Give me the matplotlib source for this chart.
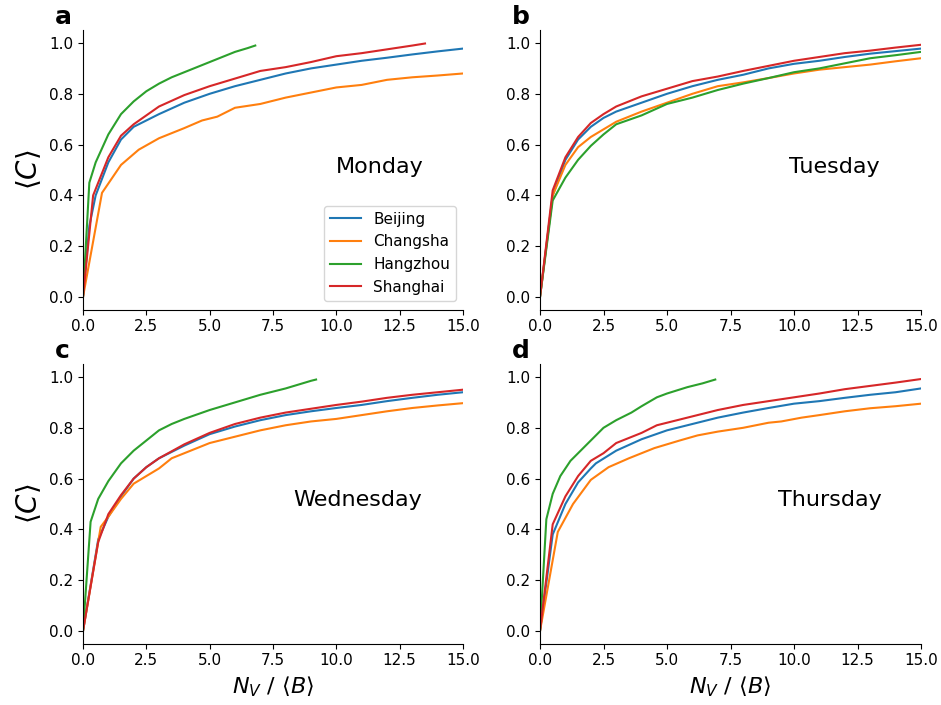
import matplotlib
matplotlib.use("Agg")
import matplotlib.pyplot as plt
import numpy as np

cities = ["Beijing", "Changsha", "Hangzhou", "Shanghai"]
colors = ["#1f77b4", "#ff7f0e", "#2ca02c", "#d62728"]
days = ["Monday", "Tuesday", "Wednesday", "Thursday"]
letters = ["a", "b", "c", "d"]

# Monday
mon_beijing_x = [0, 0.25, 0.5, 1, 1.5, 2, 3, 4, 5, 6, 7, 8, 9, 10, 11, 12, 13, 14, 15]
mon_beijing_y = [0, 0.28, 0.4, 0.53, 0.62, 0.67, 0.72, 0.765, 0.8, 0.83, 0.855, 0.88, 0.9, 0.915, 0.93, 0.942, 0.955, 0.967, 0.978]
mon_changsha_x = [0, 0.75, 1.5, 2.2, 3, 4, 4.7, 5.3, 6, 7, 8, 9, 10, 11, 12, 13, 14, 15]
mon_changsha_y = [0, 0.41, 0.52, 0.58, 0.625, 0.665, 0.695, 0.71, 0.745, 0.76, 0.785, 0.805, 0.825, 0.835, 0.855, 0.865, 0.872, 0.88]
mon_hangzhou_x = [0, 0.25, 0.5, 1, 1.5, 2, 2.5, 3, 3.5, 4, 4.5, 5, 5.5, 6, 6.5, 6.8]
mon_hangzhou_y = [0, 0.45, 0.53, 0.64, 0.72, 0.77, 0.81, 0.84, 0.865, 0.885, 0.905, 0.925, 0.945, 0.965, 0.98, 0.99]
mon_shanghai_x = [0, 0.4, 1, 1.5, 2, 3, 4, 5, 6, 7, 8, 9, 10, 11, 12, 13, 13.5]
mon_shanghai_y = [0, 0.4, 0.55, 0.635, 0.68, 0.75, 0.795, 0.83, 0.86, 0.89, 0.905, 0.925, 0.948, 0.96, 0.975, 0.99, 0.998]

# Tuesday
tue_beijing_x = [0, 0.5, 1, 1.5, 2, 2.5, 3, 4, 5, 6, 7, 8, 9, 10, 11, 12, 13, 14, 15]
tue_beijing_y = [0, 0.4, 0.54, 0.62, 0.67, 0.705, 0.73, 0.765, 0.8, 0.83, 0.855, 0.875, 0.9, 0.918, 0.93, 0.945, 0.958, 0.968, 0.978]
tue_changsha_x = [0, 0.5, 1, 1.5, 2, 3, 4, 5, 6, 7, 8, 9, 10, 11, 12, 13, 14, 15]
tue_changsha_y = [0, 0.4, 0.52, 0.59, 0.63, 0.69, 0.73, 0.765, 0.8, 0.83, 0.845, 0.862, 0.88, 0.895, 0.905, 0.915, 0.928, 0.94]
tue_hangzhou_x = [0, 0.5, 1, 1.5, 2, 2.5, 3, 4, 5, 6, 7, 8, 9, 10, 11, 12, 13, 14, 15]
tue_hangzhou_y = [0, 0.38, 0.47, 0.54, 0.595, 0.64, 0.68, 0.715, 0.76, 0.785, 0.815, 0.84, 0.862, 0.885, 0.9, 0.92, 0.94, 0.952, 0.965]
tue_shanghai_x = [0, 0.5, 1, 1.5, 2, 2.5, 3, 4, 5, 6, 7, 8, 9, 10, 11, 12, 13, 14, 15]
tue_shanghai_y = [0, 0.42, 0.55, 0.63, 0.685, 0.72, 0.75, 0.79, 0.82, 0.85, 0.868, 0.89, 0.91, 0.93, 0.945, 0.96, 0.97, 0.982, 0.993]

# Wednesday
wed_beijing_x = [0, 0.6, 1, 1.5, 2, 2.5, 3, 4, 5, 6, 7, 8, 9, 10, 11, 12, 13, 14, 15]
wed_beijing_y = [0, 0.36, 0.45, 0.53, 0.6, 0.645, 0.68, 0.73, 0.775, 0.805, 0.83, 0.85, 0.865, 0.878, 0.89, 0.905, 0.918, 0.93, 0.94]
wed_changsha_x = [0, 0.7, 1, 1.5, 2, 3, 3.5, 4, 5, 6, 7, 8, 9, 10, 11, 12, 13, 14, 15]
wed_changsha_y = [0, 0.41, 0.45, 0.52, 0.58, 0.64, 0.68, 0.7, 0.74, 0.765, 0.79, 0.81, 0.825, 0.835, 0.85, 0.865, 0.878, 0.888, 0.897]
wed_hangzhou_x = [0, 0.3, 0.6, 1, 1.5, 2, 2.5, 3, 3.5, 4, 5, 6, 7, 8, 8.5, 9, 9.2]
wed_hangzhou_y = [0, 0.43, 0.52, 0.59, 0.66, 0.71, 0.75, 0.79, 0.815, 0.835, 0.87, 0.9, 0.93, 0.955, 0.97, 0.985, 0.99]
wed_shanghai_x = [0, 0.6, 1, 1.5, 2, 2.5, 3, 4, 5, 6, 7, 8, 9, 10, 11, 12, 13, 14, 15]
wed_shanghai_y = [0, 0.35, 0.46, 0.535, 0.6, 0.645, 0.68, 0.735, 0.78, 0.815, 0.84, 0.86, 0.875, 0.89, 0.903, 0.918, 0.93, 0.94, 0.95]

# Thursday
thu_beijing_x = [0, 0.5, 1, 1.5, 2, 2.2, 3, 4, 5, 6, 7, 8, 9, 10, 11, 12, 13, 14, 15]
thu_beijing_y = [0, 0.38, 0.5, 0.585, 0.64, 0.66, 0.71, 0.755, 0.79, 0.815, 0.84, 0.86, 0.878, 0.895, 0.905, 0.918, 0.93, 0.94, 0.955]
thu_changsha_x = [0, 0.7, 1.3, 2, 2.7, 3.5, 4.5, 5.5, 6.2, 7, 8, 9, 9.5, 10.3, 11, 12, 13, 14, 15]
thu_changsha_y = [0, 0.39, 0.5, 0.595, 0.645, 0.68, 0.72, 0.75, 0.77, 0.785, 0.8, 0.82, 0.825, 0.84, 0.85, 0.865, 0.877, 0.885, 0.895]
thu_hangzhou_x = [0, 0.25, 0.5, 0.8, 1.2, 1.5, 2, 2.5, 3, 3.6, 4, 4.6, 5, 5.8, 6.4, 6.9]
thu_hangzhou_y = [0, 0.44, 0.54, 0.61, 0.67, 0.7, 0.75, 0.8, 0.83, 0.86, 0.885, 0.92, 0.935, 0.96, 0.975, 0.99]
thu_shanghai_x = [0, 0.5, 1, 1.5, 2, 2.5, 3, 4, 4.6, 5, 6, 7, 8, 9, 10, 11, 12, 13, 14, 15]
thu_shanghai_y = [0, 0.42, 0.53, 0.61, 0.67, 0.7, 0.74, 0.78, 0.81, 0.82, 0.845, 0.87, 0.89, 0.905, 0.92, 0.935, 0.952, 0.965, 0.978, 0.992]

panel_data = [
    [(mon_beijing_x, mon_beijing_y), (mon_changsha_x, mon_changsha_y), (mon_hangzhou_x, mon_hangzhou_y), (mon_shanghai_x, mon_shanghai_y)],
    [(tue_beijing_x, tue_beijing_y), (tue_changsha_x, tue_changsha_y), (tue_hangzhou_x, tue_hangzhou_y), (tue_shanghai_x, tue_shanghai_y)],
    [(wed_beijing_x, wed_beijing_y), (wed_changsha_x, wed_changsha_y), (wed_hangzhou_x, wed_hangzhou_y), (wed_shanghai_x, wed_shanghai_y)],
    [(thu_beijing_x, thu_beijing_y), (thu_changsha_x, thu_changsha_y), (thu_hangzhou_x, thu_hangzhou_y), (thu_shanghai_x, thu_shanghai_y)],
]

W, H = 941, 705
fig = plt.figure(figsize=(W / 100, H / 100), dpi=100)

# axes rects in pixels: left, right, top, bottom
rects = [
    (83, 463, 30.3, 309.7),
    (540, 921, 30.3, 309.7),
    (83, 463, 364.3, 643.7),
    (540, 921, 364.3, 643.7),
]
day_pos = [(11.7, 0.51), (11.6, 0.51), (10.85, 0.515), (11.4, 0.515)]

for i, (l, r, t, b) in enumerate(rects):
    ax = fig.add_axes([l / W, 1 - b / H, (r - l) / W, (b - t) / H])
    for (xs, ys), c, name in zip(panel_data[i], colors, cities):
        ax.plot(xs, ys, color=c, lw=1.5, label=name)
    ax.set_xlim(0, 15)
    ax.set_ylim(-0.05, 1.05)
    ax.set_xticks([0, 2.5, 5, 7.5, 10, 12.5, 15])
    ax.set_yticks([0, 0.2, 0.4, 0.6, 0.8, 1.0])
    ax.tick_params(labelsize=11)
    ax.spines["top"].set_visible(False)
    ax.spines["right"].set_visible(False)
    ax.text(day_pos[i][0], day_pos[i][1], days[i], fontsize=16, ha="center", va="center")
    if i % 2 == 0:
        ax.set_ylabel(r"$\langle C\rangle$", fontsize=20)
    if i >= 2:
        ax.set_xlabel(r"$N_V$ / $\langle B\rangle$", fontsize=16)
    if i == 0:
        ax.legend(loc="lower right", fontsize=11, borderaxespad=0,
                  bbox_to_anchor=(0.982, 0.032))
    fig.text((l - 28) / W, 1 - (t - 13) / H, letters[i], fontsize=18,
             fontweight="bold", ha="left", va="center")

fig.savefig("out.png", dpi=100)
